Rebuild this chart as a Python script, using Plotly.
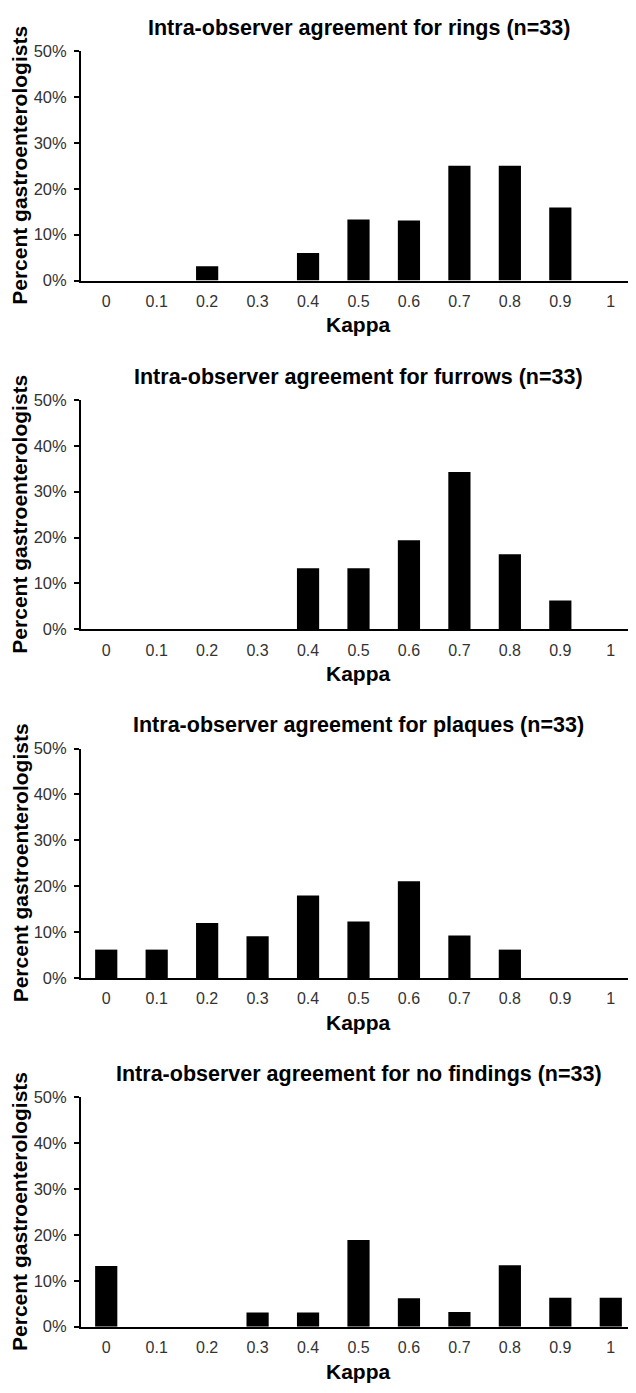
import plotly.graph_objects as go

kappa = ["0", "0.1", "0.2", "0.3", "0.4", "0.5", "0.6", "0.7", "0.8", "0.9", "1"]
rings = [0, 0, 3.1, 0, 6.0, 13.3, 13.1, 25.0, 25.0, 15.9, 0]
furrows = [0, 0, 0, 0, 13.3, 13.3, 19.4, 34.3, 16.4, 6.3, 0]
plaques = [6.2, 6.2, 12.0, 9.1, 18.0, 12.3, 21.1, 9.3, 6.2, 0, 0]
no_findings = [13.2, 0, 0, 3.1, 3.1, 18.9, 6.2, 3.2, 13.4, 6.3, 6.3]

titles = [
    "Intra-observer agreement for rings (n=33)",
    "Intra-observer agreement for furrows (n=33)",
    "Intra-observer agreement for plaques (n=33)",
    "Intra-observer agreement for no findings (n=33)",
]
series = [rings, furrows, plaques, no_findings]
y_ticks = [0, 10, 20, 30, 40, 50]
y_ticktext = ["0%", "10%", "20%", "30%", "40%", "50%"]

# page body has an 8px default margin; compensate so the figure fills the window
OFF = 8
W, H = 636 - OFF, 1393 - 2 * OFF
L = 81 - OFF
plot_w = W - L
tops = [42.5 - OFF, 396.0 - OFF, 749.3 - OFF, 1102.5 - OFF]
plot_h = 232.5

fig = go.Figure()
FONT = "Liberation Sans, Arial, Helvetica, sans-serif"
annotations = []

for i, (vals, title) in enumerate(zip(series, titles)):
    n = "" if i == 0 else str(i + 1)
    top = tops[i]
    bot = top + plot_h
    dom = [1 - bot / H, 1 - top / H]
    fig.add_trace(go.Bar(
        x=kappa, y=vals, marker=dict(color="black", line=dict(width=0)),
        xaxis="x" + n, yaxis="y" + n, showlegend=False,
    ))
    fig.layout["xaxis" + n] = dict(
        domain=[0, 1], anchor="y" + n, type="category",
        range=[-0.5, 10.5], showline=True, linecolor="black", linewidth=2,
        ticks="", showgrid=False, zeroline=False, ticklabelstandoff=5,
        tickfont=dict(family=FONT, size=16, color="#333"),
    )
    fig.layout["yaxis" + n] = dict(
        domain=dom, anchor="x" + n, range=[0, 50],
        tickvals=y_ticks, ticktext=y_ticktext,
        showline=True, linecolor="black", linewidth=2,
        ticks="outside", ticklen=5, tickwidth=2, tickcolor="black",
        showgrid=False, zeroline=False, ticklabelstandoff=4,
        tickfont=dict(family=FONT, size=16.5, color="#333"),
    )
    # panel title
    annotations.append(dict(
        text=title, xref="paper", yref="paper", x=0.5,
        y=1 - (top - 23.5) / H, xanchor="center", yanchor="middle",
        showarrow=False, font=dict(family=FONT, size=21.5, color="black", weight="bold"),
    ))
    # x-axis title
    annotations.append(dict(
        text="Kappa", xref="paper", yref="paper", x=0.5,
        y=1 - (bot + 45) / H, xanchor="center", yanchor="middle",
        showarrow=False, font=dict(family=FONT, size=21, color="black", weight="bold"),
    ))
    # y-axis title
    annotations.append(dict(
        text="Percent gastroenterologists", xref="paper", yref="paper",
        x=(12 - L) / plot_w, y=1 - (top + plot_h / 2) / H,
        xanchor="center", yanchor="middle", textangle=-90,
        showarrow=False, font=dict(family=FONT, size=21, color="black", weight="bold"),
    ))

fig.update_layout(
    width=W, height=H,
    margin=dict(l=L, r=0, t=0, b=0),
    paper_bgcolor="white", plot_bgcolor="white",
    bargap=0.56,
    annotations=annotations,
)

fig.write_html("out.html")
